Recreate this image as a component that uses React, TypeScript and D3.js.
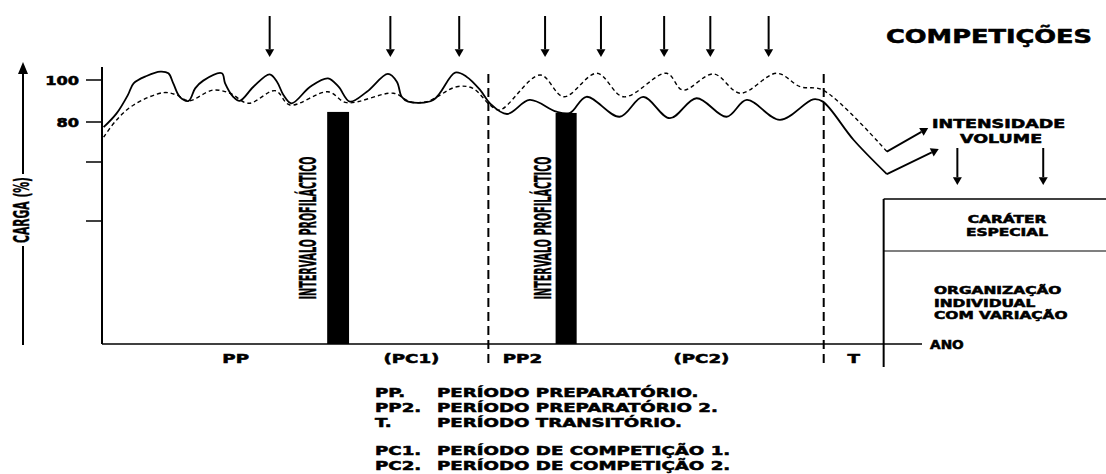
import React, { useLayoutEffect, useRef, useState } from 'react';
import * as d3 from 'd3';

const W = 1106;
const H = 474;

// [posição no ano (0-100), carga %]
const volume: [number, number][] = [
  [0.2, 77.4], [1.8, 84.1], [3.2, 92.9], [3.9, 98.4], [5.5, 101.9], [7.2, 104.0], [8.2, 103.2],
  [8.8, 98.4], [9.6, 92.0], [10.7, 90.1], [11.5, 96.0], [12.5, 99.7], [14.8, 103.2], [15.2, 98.4],
  [16.2, 92.0], [17.0, 90.1], [18.7, 96.8], [20.7, 102.7], [21.6, 99.2], [22.4, 92.9], [23.4, 88.9],
  [25.7, 96.8], [27.9, 100.8], [29.2, 96.8], [30.6, 89.7], [32.7, 94.4], [35.3, 102.9], [36.4, 99.2],
  [37.0, 92.0], [37.8, 89.7], [40.9, 90.5], [43.6, 103.5], [45.0, 101.6], [46.7, 95.2], [47.9, 88.9],
  [50.0, 83.8], [52.8, 90.5], [56.1, 84.9], [57.8, 84.4], [59.8, 92.0], [63.9, 82.5], [66.8, 92.0],
  [70.1, 81.8], [73.4, 91.3], [77.1, 82.5], [79.6, 90.5], [83.7, 81.0], [87.8, 90.8], [89.0, 89.7],
  [92.8, 71.0], [96.9, 55.9],
];

const intensidade: [number, number][] = [
  [0.2, 72.4], [1.8, 81.0], [3.9, 88.1], [7.6, 94.0], [9.2, 92.9], [10.7, 90.1], [13.7, 95.2],
  [15.8, 93.7], [18.1, 88.9], [21.4, 94.9], [23.2, 88.1], [27.9, 94.4], [30.2, 89.2], [36.0, 93.7],
  [38.0, 89.7], [40.1, 89.7], [43.8, 96.8], [45.8, 96.0], [47.9, 88.1], [49.1, 85.7], [54.1, 102.4],
  [57.0, 92.0], [61.1, 103.2], [64.4, 92.0], [69.7, 103.2], [71.7, 95.2], [75.5, 102.9], [78.8, 93.7],
  [83.3, 103.2], [86.2, 96.8], [89.0, 95.2], [96.9, 65.2],
];

const tickValues = [40, 60, 80, 100];
const tickLabels = ['', '', '80', '100'];

const boundaries = [47.7, 89.1];
const bars = [
  { from: 27.8, to: 30.5, top: 84.8, textAt: 26.5 },
  { from: 56.0, to: 58.6, top: 84.3, textAt: 55.5 },
];
const competitions = [20.7, 35.6, 44.1, 54.7, 61.6, 69.4, 75.1, 82.3];
const periodLabels: [string, number][] = [
  ['PP', 16.5], ['(PC1)', 38.2], ['PP2', 51.9], ['(PC2)', 74.0], ['T', 92.8],
];
const boxStart = 96.5;
const transitionArrows = [105.6, 116.2];
const endTips: [number, number][] = [[102.0, 77.0], [103.3, 66.5]];

const legendRows: [string, string][] = [
  ['PP.', 'PERÍODO PREPARATÓRIO.'],
  ['PP2.', 'PERÍODO PREPARATÓRIO 2.'],
  ['T.', 'PERÍODO TRANSITÓRIO.'],
  ['PC1.', 'PERÍODO DE COMPETIÇÃO 1.'],
  ['PC2.', 'PERÍODO DE COMPETIÇÃO 2.'],
];
const legendY = [397, 412, 427, 455, 470];

const WIDE = '"DejaVu Sans", sans-serif';
const NARROW = '"Liberation Sans Narrow", "DejaVu Sans Condensed", sans-serif';

const Wide = ({ x, y, size, anchor = 'start', sx = 1.4, children }: any) => (
  <text
    transform={`translate(${x},${y}) scale(${sx},1)`}
    textAnchor={anchor}
    fontFamily={WIDE}
    fontWeight="bold"
    fontSize={size}
    fill="#000"
    stroke="#000"
    strokeWidth={0.55}
  >
    {children}
  </text>
);

// texto vertical condensado: mede e comprime até o comprimento pedido
const Condensed = ({ x, y, size, length, children }: any) => {
  const ref = useRef<SVGTextElement>(null);
  const [k, setK] = useState(0.6);
  useLayoutEffect(() => {
    if (!ref.current) return;
    const w = ref.current.getComputedTextLength();
    if (w > 0) setK(length / w);
  }, [length]);
  return (
    <text
      ref={ref}
      transform={`translate(${x},${y}) rotate(-90) scale(${k},1)`}
      textAnchor="middle"
      fontFamily={NARROW}
      fontWeight="bold"
      fontSize={size}
      fill="#000"
      stroke="#000"
      strokeWidth={0.4}
    >
      {children}
    </text>
  );
};

const Arrow = ({ x1, y1, x2, y2, head = 7, width = 2 }: any) => {
  const a = Math.atan2(y2 - y1, x2 - x1);
  const bx = x2 - Math.cos(a) * head * 1.3;
  const by = y2 - Math.sin(a) * head * 1.3;
  const px = Math.cos(a + Math.PI / 2) * head * 0.75;
  const py = Math.sin(a + Math.PI / 2) * head * 0.75;
  return (
    <g>
      <line x1={x1} y1={y1} x2={bx} y2={by} stroke="#000" strokeWidth={width} />
      <polygon points={`${x2},${y2} ${bx + px},${by + py} ${bx - px},${by - py}`} fill="#000" />
    </g>
  );
};

export default function App() {
  const x = d3.scaleLinear().domain([0, 100]).range([102, 912]);
  const y = d3.scaleLinear().domain([0, 40, 60, 80, 100]).range([344, 221, 162, 122, 80]);
  const line = d3
    .line<[number, number]>()
    .x((d) => x(d[0]))
    .y((d) => y(d[1]))
    .curve(d3.curveCatmullRom.alpha(0.5));

  const baseY = y(0);
  const volEnd = volume[volume.length - 1];
  const intEnd = intensidade[intensidade.length - 1];

  return (
    <>
      <style>{`body{margin:0;background:#fff}`}</style>
      <svg width={W} height={H} viewBox={`0 0 ${W} ${H}`} style={{ display: 'block' }}>
        <rect width={W} height={H} fill="#fff" />

        {/* eixo da carga */}
        <line x1={23} y1={345} x2={23} y2={246} stroke="#000" strokeWidth={2} />
        <line x1={23} y1={174} x2={23} y2={72} stroke="#000" strokeWidth={2} />
        <polygon points="23,62 18,74 28,74" fill="#000" />
        <Condensed x={29} y={210} size={21} length={66}>CARGA (%)</Condensed>

        <line x1={x(0)} y1={67} x2={x(0)} y2={baseY} stroke="#000" strokeWidth={2} />
        {tickValues.map((t, i) => (
          <g key={t}>
            <line x1={86} x2={x(0)} y1={y(t)} y2={y(t)} stroke="#000" strokeWidth={1.5} />
            {tickLabels[i] && (
              <Wide x={79} y={y(t) + 4.5} size={12} anchor="end" sx={1.35}>
                {tickLabels[i]}
              </Wide>
            )}
          </g>
        ))}

        {/* eixo do ano */}
        <line x1={x(0)} y1={baseY} x2={922} y2={baseY} stroke="#000" strokeWidth={1.5} />
        <Wide x={930} y={349} size={12.5} sx={1.1}>ANO</Wide>

        {boundaries.map((b) => (
          <line
            key={b}
            x1={x(b)}
            x2={x(b)}
            y1={74}
            y2={367}
            stroke="#000"
            strokeWidth={2}
            strokeDasharray="9,5"
          />
        ))}

        {bars.map((b) => (
          <g key={b.from}>
            <rect x={x(b.from)} y={y(b.top)} width={x(b.to) - x(b.from)} height={baseY - y(b.top)} fill="#000" />
            <Condensed x={x(b.textAt) - 1} y={228} size={23} length={143}>
              INTERVALO PROFILÁCTICO
            </Condensed>
          </g>
        ))}

        <path d={line(intensidade) || ''} fill="none" stroke="#000" strokeWidth={1.4} strokeDasharray="4,3" />
        <path d={line(volume) || ''} fill="none" stroke="#000" strokeWidth={1.8} />

        <Arrow x1={x(intEnd[0])} y1={y(intEnd[1])} x2={x(endTips[0][0])} y2={y(endTips[0][1])} head={6} width={1.8} />
        <Arrow x1={x(volEnd[0])} y1={y(volEnd[1])} x2={x(endTips[1][0])} y2={y(endTips[1][1])} head={6} width={1.8} />
        <Wide x={932} y={128} size={12.5}>INTENSIDADE</Wide>
        <Wide x={960} y={143} size={12.5}>VOLUME</Wide>

        {competitions.map((c) => (
          <Arrow key={c} x1={x(c)} y1={16} x2={x(c)} y2={57} head={6} width={2} />
        ))}
        <Wide x={886} y={43} size={19} sx={1.35}>COMPETIÇÕES</Wide>

        {transitionArrows.map((t) => (
          <Arrow key={t} x1={x(t)} y1={148} x2={x(t)} y2={185} head={6} width={2} />
        ))}

        {/* quadro do período transitório */}
        <line x1={x(boxStart)} x2={x(boxStart)} y1={199} y2={367} stroke="#000" strokeWidth={2} />
        <line x1={x(boxStart)} x2={W} y1={199} y2={199} stroke="#000" strokeWidth={1.5} />
        <line x1={x(boxStart)} x2={W} y1={251} y2={251} stroke="#000" strokeWidth={1.2} />
        <Wide x={1007} y={223} size={11} anchor="middle">CARÁTER</Wide>
        <Wide x={1007} y={236} size={11} anchor="middle">ESPECIAL</Wide>
        <Wide x={934} y={294} size={11}>ORGANIZAÇÃO</Wide>
        <Wide x={934} y={307} size={11}>INDIVIDUAL</Wide>
        <Wide x={934} y={319} size={11}>COM VARIAÇÃO</Wide>

        {periodLabels.map(([label, p]) => (
          <Wide key={label} x={x(p)} y={363} size={13} anchor="middle" sx={1.4}>
            {label}
          </Wide>
        ))}

        {legendRows.map(([code, text], i) => (
          <g key={code}>
            <Wide x={375} y={legendY[i]} size={13}>{code}</Wide>
            <Wide x={437} y={legendY[i]} size={13}>{text}</Wide>
          </g>
        ))}
      </svg>
    </>
  );
}
